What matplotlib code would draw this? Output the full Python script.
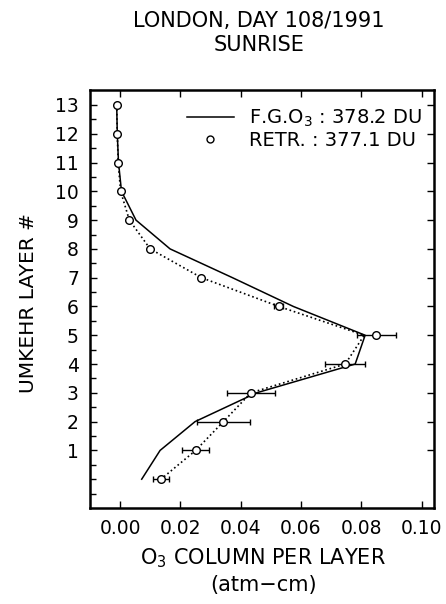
############################################
###  London Umkehr profile, day 108/1991 sunrise
############################################

import numpy as np
from matplotlib import pyplot as plt
from matplotlib.lines import Line2D

## data
layers      = [13, 12, 11, 10, 9, 8, 7, 6, 5, 4, 3, 2, 1, 0]
fg_o3       = [-0.0011, -0.0009, -0.0005, 0.0005, 0.0053, 0.0166, 0.0373, 0.0575, 0.0813, 0.0780, 0.0453, 0.0249, 0.0133, 0.0072]
retr        = [-0.0011, -0.0009, -0.0006, 0.0002, 0.0031, 0.0100, 0.0270, 0.0527, 0.0850, 0.0747, 0.0434, 0.0343, 0.0251, 0.0136]
retr_line   = [-0.0011, -0.0009, -0.0006, 0.0002, 0.0031, 0.0100, 0.0270, 0.0527, 0.0810, 0.0747, 0.0434, 0.0343, 0.0251, 0.0136]
retr_err    = [0, 0, 0, 0, 0, 0, 0, 0.0015, 0.0065, 0.0067, 0.0080, 0.0087, 0.0045, 0.0027]

x_ticks = [0.00, 0.02, 0.04, 0.06, 0.08, 0.10]
y_ticks = list(range(1, 14))

plt.rcParams['font.family'] = ['DejaVu Sans']

fig = plt.figure(figsize=(4.46, 6.04), dpi=100)
ax = fig.add_axes([0.2018, 0.159, 0.771, 0.692])

### first guess profile (solid) and retrieval (dotted line + open circles)
ax.plot(fg_o3, layers, "k-", linewidth=1.1)
ax.plot(retr_line, layers, "k:", linewidth=1.2)
ax.errorbar(retr, layers, xerr=retr_err, fmt="none", ecolor="black",
            elinewidth=1.0, capsize=2, capthick=1.0)
ax.plot(retr, layers, "o", markersize=5.5, markerfacecolor="white",
        markeredgecolor="black", markeredgewidth=1.0)

ax.set_xlim(-0.00995, 0.1041)
ax.set_ylim(-1.0, 13.52)

ax.set_xticks(x_ticks)
ax.set_xticklabels(["%.2f" % v for v in x_ticks])
ax.set_yticks(y_ticks)
ax.set_yticks(np.arange(-0.5, 13.5, 0.5), minor=True)

ax.tick_params(axis="both", which="major", direction="in", length=5, width=1.0,
               labelsize=13.5, top=True, right=True)
ax.tick_params(axis="y", which="major", pad=8)
ax.tick_params(axis="x", which="major", pad=8)
ax.tick_params(axis="y", which="minor", direction="in", length=4, width=1.0, right=False)
ax.tick_params(axis="x", which="minor", bottom=False, top=False)

for s in ax.spines.values():
    s.set_linewidth(1.8)

ax.set_ylabel("UMKEHR LAYER #", fontsize=14.5)
ax.yaxis.set_label_coords(-0.152, 0.49)

### legend
handles = [Line2D([0], [0], color="black", linewidth=1.1),
           Line2D([0], [0], linestyle="none", marker="o", markersize=5,
                  markerfacecolor="white", markeredgecolor="black")]
labels = ["F.G.O$_3$ : 378.2 DU", "RETR. : 377.1 DU"]
ax.legend(handles, labels, loc="upper right", bbox_to_anchor=(1.0, 0.985),
          frameon=False, fontsize=14, handlelength=2.4, handletextpad=0.8,
          labelspacing=0.1, borderaxespad=0.2)

### titles and x axis label
fig.text(0.58, 0.966, "LONDON, DAY 108/1991", ha="center", va="center", fontsize=15)
fig.text(0.58, 0.925, "SUNRISE", ha="center", va="center", fontsize=15)
fig.text(0.59, 0.075, "O$_3$ COLUMN PER LAYER", ha="center", va="center", fontsize=15)
fig.text(0.59, 0.032, "(atm\u2212cm)", ha="center", va="center", fontsize=15)

plt.savefig("out.png", dpi=100)
